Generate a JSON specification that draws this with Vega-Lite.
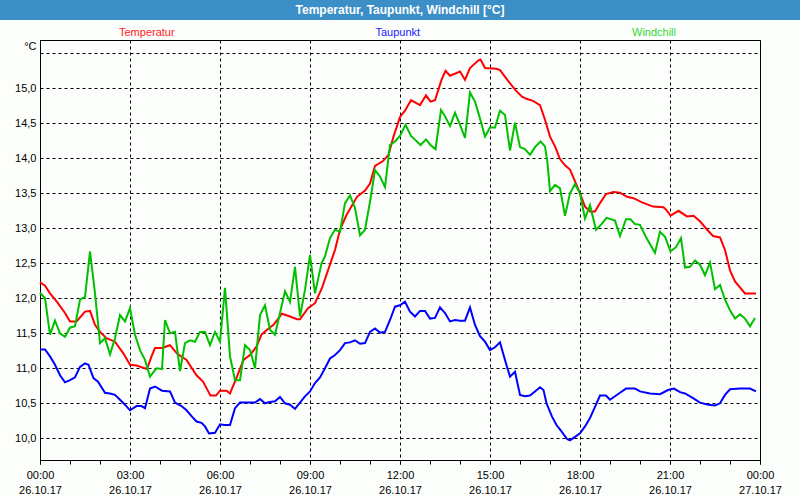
{
  "$schema": "https://vega.github.io/schema/vega-lite/v6.json",
  "background": "#fcfefc",
  "padding": 0,
  "spacing": 20,
  "bounds": "flush",
  "center": true,
  "config": {
    "font": "Liberation Sans",
    "view": {"stroke": "black", "strokeWidth": 1}
  },
  "datasets": {
    "temperatur": [
      {"time":"2017-10-26T00:00","value":12.23},{"time":"2017-10-26T00:10","value":12.18},{"time":"2017-10-26T00:20","value":12.07},{"time":"2017-10-26T00:34","value":11.95},{"time":"2017-10-26T00:50","value":11.79},{"time":"2017-10-26T01:00","value":11.67},{"time":"2017-10-26T01:13","value":11.67},{"time":"2017-10-26T01:30","value":11.81},{"time":"2017-10-26T01:40","value":11.82},{"time":"2017-10-26T01:50","value":11.62},{"time":"2017-10-26T02:00","value":11.52},{"time":"2017-10-26T02:13","value":11.43},{"time":"2017-10-26T02:30","value":11.38},{"time":"2017-10-26T02:47","value":11.21},{"time":"2017-10-26T03:00","value":11.05},{"time":"2017-10-26T03:13","value":11.04},{"time":"2017-10-26T03:34","value":10.99},{"time":"2017-10-26T03:43","value":11.17},{"time":"2017-10-26T03:50","value":11.29},{"time":"2017-10-26T04:04","value":11.29},{"time":"2017-10-26T04:20","value":11.33},{"time":"2017-10-26T04:34","value":11.21},{"time":"2017-10-26T04:53","value":11.12},{"time":"2017-10-26T05:13","value":10.90},{"time":"2017-10-26T05:26","value":10.81},{"time":"2017-10-26T05:41","value":10.61},{"time":"2017-10-26T05:52","value":10.61},{"time":"2017-10-26T06:00","value":10.68},{"time":"2017-10-26T06:13","value":10.68},{"time":"2017-10-26T06:20","value":10.64},{"time":"2017-10-26T06:34","value":10.88},{"time":"2017-10-26T06:47","value":11.12},{"time":"2017-10-26T07:00","value":11.19},{"time":"2017-10-26T07:13","value":11.31},{"time":"2017-10-26T07:23","value":11.48},{"time":"2017-10-26T07:34","value":11.55},{"time":"2017-10-26T07:47","value":11.62},{"time":"2017-10-26T08:04","value":11.78},{"time":"2017-10-26T08:20","value":11.74},{"time":"2017-10-26T08:34","value":11.70},{"time":"2017-10-26T08:40","value":11.70},{"time":"2017-10-26T08:56","value":11.86},{"time":"2017-10-26T09:10","value":11.93},{"time":"2017-10-26T09:24","value":12.15},{"time":"2017-10-26T09:36","value":12.40},{"time":"2017-10-26T09:50","value":12.69},{"time":"2017-10-26T10:00","value":12.98},{"time":"2017-10-26T10:13","value":13.19},{"time":"2017-10-26T10:34","value":13.45},{"time":"2017-10-26T10:50","value":13.54},{"time":"2017-10-26T11:00","value":13.64},{"time":"2017-10-26T11:10","value":13.89},{"time":"2017-10-26T11:26","value":13.96},{"time":"2017-10-26T11:37","value":14.05},{"time":"2017-10-26T11:47","value":14.31},{"time":"2017-10-26T12:00","value":14.59},{"time":"2017-10-26T12:10","value":14.68},{"time":"2017-10-26T12:22","value":14.83},{"time":"2017-10-26T12:40","value":14.76},{"time":"2017-10-26T12:52","value":14.90},{"time":"2017-10-26T13:01","value":14.81},{"time":"2017-10-26T13:10","value":14.83},{"time":"2017-10-26T13:23","value":15.12},{"time":"2017-10-26T13:31","value":15.25},{"time":"2017-10-26T13:40","value":15.18},{"time":"2017-10-26T14:00","value":15.24},{"time":"2017-10-26T14:10","value":15.12},{"time":"2017-10-26T14:20","value":15.29},{"time":"2017-10-26T14:37","value":15.40},{"time":"2017-10-26T14:41","value":15.41},{"time":"2017-10-26T14:50","value":15.29},{"time":"2017-10-26T15:13","value":15.28},{"time":"2017-10-26T15:20","value":15.26},{"time":"2017-10-26T15:37","value":15.10},{"time":"2017-10-26T15:50","value":14.98},{"time":"2017-10-26T16:04","value":14.88},{"time":"2017-10-26T16:13","value":14.85},{"time":"2017-10-26T16:26","value":14.82},{"time":"2017-10-26T16:40","value":14.76},{"time":"2017-10-26T16:50","value":14.55},{"time":"2017-10-26T17:00","value":14.31},{"time":"2017-10-26T17:10","value":14.17},{"time":"2017-10-26T17:20","value":13.99},{"time":"2017-10-26T17:30","value":13.90},{"time":"2017-10-26T17:40","value":13.84},{"time":"2017-10-26T17:50","value":13.67},{"time":"2017-10-26T18:00","value":13.50},{"time":"2017-10-26T18:10","value":13.31},{"time":"2017-10-26T18:20","value":13.24},{"time":"2017-10-26T18:30","value":13.24},{"time":"2017-10-26T18:40","value":13.36},{"time":"2017-10-26T18:52","value":13.49},{"time":"2017-10-26T19:07","value":13.52},{"time":"2017-10-26T19:20","value":13.51},{"time":"2017-10-26T19:34","value":13.45},{"time":"2017-10-26T19:47","value":13.43},{"time":"2017-10-26T20:04","value":13.37},{"time":"2017-10-26T20:26","value":13.31},{"time":"2017-10-26T20:47","value":13.30},{"time":"2017-10-26T20:53","value":13.26},{"time":"2017-10-26T21:01","value":13.18},{"time":"2017-10-26T21:17","value":13.25},{"time":"2017-10-26T21:34","value":13.17},{"time":"2017-10-26T21:47","value":13.18},{"time":"2017-10-26T22:00","value":13.10},{"time":"2017-10-26T22:13","value":12.99},{"time":"2017-10-26T22:26","value":12.89},{"time":"2017-10-26T22:40","value":12.87},{"time":"2017-10-26T22:50","value":12.69},{"time":"2017-10-26T23:00","value":12.40},{"time":"2017-10-26T23:10","value":12.24},{"time":"2017-10-26T23:30","value":12.07},{"time":"2017-10-26T23:52","value":12.07}
    ],
    "taupunkt": [
      {"time":"2017-10-26T00:00","value":11.27},{"time":"2017-10-26T00:10","value":11.27},{"time":"2017-10-26T00:20","value":11.17},{"time":"2017-10-26T00:30","value":11.05},{"time":"2017-10-26T00:40","value":10.90},{"time":"2017-10-26T00:50","value":10.80},{"time":"2017-10-26T01:00","value":10.83},{"time":"2017-10-26T01:10","value":10.87},{"time":"2017-10-26T01:20","value":11.02},{"time":"2017-10-26T01:30","value":11.07},{"time":"2017-10-26T01:37","value":11.05},{"time":"2017-10-26T01:47","value":10.86},{"time":"2017-10-26T01:56","value":10.81},{"time":"2017-10-26T02:10","value":10.65},{"time":"2017-10-26T02:20","value":10.64},{"time":"2017-10-26T02:30","value":10.62},{"time":"2017-10-26T02:40","value":10.55},{"time":"2017-10-26T02:50","value":10.48},{"time":"2017-10-26T03:00","value":10.40},{"time":"2017-10-26T03:13","value":10.46},{"time":"2017-10-26T03:23","value":10.46},{"time":"2017-10-26T03:30","value":10.43},{"time":"2017-10-26T03:40","value":10.71},{"time":"2017-10-26T03:50","value":10.74},{"time":"2017-10-26T04:04","value":10.68},{"time":"2017-10-26T04:20","value":10.67},{"time":"2017-10-26T04:30","value":10.51},{"time":"2017-10-26T04:43","value":10.46},{"time":"2017-10-26T04:53","value":10.40},{"time":"2017-10-26T05:04","value":10.31},{"time":"2017-10-26T05:13","value":10.24},{"time":"2017-10-26T05:23","value":10.22},{"time":"2017-10-26T05:30","value":10.17},{"time":"2017-10-26T05:38","value":10.07},{"time":"2017-10-26T05:50","value":10.08},{"time":"2017-10-26T06:00","value":10.20},{"time":"2017-10-26T06:08","value":10.19},{"time":"2017-10-26T06:20","value":10.19},{"time":"2017-10-26T06:30","value":10.43},{"time":"2017-10-26T06:40","value":10.51},{"time":"2017-10-26T06:50","value":10.51},{"time":"2017-10-26T07:10","value":10.51},{"time":"2017-10-26T07:20","value":10.56},{"time":"2017-10-26T07:30","value":10.50},{"time":"2017-10-26T07:40","value":10.52},{"time":"2017-10-26T07:50","value":10.53},{"time":"2017-10-26T08:00","value":10.59},{"time":"2017-10-26T08:10","value":10.50},{"time":"2017-10-26T08:20","value":10.48},{"time":"2017-10-26T08:30","value":10.42},{"time":"2017-10-26T08:40","value":10.51},{"time":"2017-10-26T08:50","value":10.60},{"time":"2017-10-26T09:00","value":10.67},{"time":"2017-10-26T09:10","value":10.79},{"time":"2017-10-26T09:20","value":10.87},{"time":"2017-10-26T09:30","value":11.00},{"time":"2017-10-26T09:40","value":11.14},{"time":"2017-10-26T09:50","value":11.19},{"time":"2017-10-26T10:00","value":11.26},{"time":"2017-10-26T10:10","value":11.36},{"time":"2017-10-26T10:20","value":11.37},{"time":"2017-10-26T10:30","value":11.40},{"time":"2017-10-26T10:40","value":11.35},{"time":"2017-10-26T10:50","value":11.36},{"time":"2017-10-26T11:00","value":11.52},{"time":"2017-10-26T11:10","value":11.57},{"time":"2017-10-26T11:20","value":11.51},{"time":"2017-10-26T11:30","value":11.52},{"time":"2017-10-26T11:40","value":11.69},{"time":"2017-10-26T11:50","value":11.88},{"time":"2017-10-26T12:00","value":11.90},{"time":"2017-10-26T12:10","value":11.95},{"time":"2017-10-26T12:20","value":11.81},{"time":"2017-10-26T12:30","value":11.74},{"time":"2017-10-26T12:40","value":11.82},{"time":"2017-10-26T12:50","value":11.82},{"time":"2017-10-26T13:00","value":11.71},{"time":"2017-10-26T13:10","value":11.72},{"time":"2017-10-26T13:20","value":11.87},{"time":"2017-10-26T13:30","value":11.79},{"time":"2017-10-26T13:40","value":11.67},{"time":"2017-10-26T13:50","value":11.69},{"time":"2017-10-26T14:00","value":11.68},{"time":"2017-10-26T14:10","value":11.68},{"time":"2017-10-26T14:20","value":11.87},{"time":"2017-10-26T14:30","value":11.62},{"time":"2017-10-26T14:40","value":11.46},{"time":"2017-10-26T14:50","value":11.38},{"time":"2017-10-26T15:00","value":11.26},{"time":"2017-10-26T15:10","value":11.30},{"time":"2017-10-26T15:20","value":11.37},{"time":"2017-10-26T15:30","value":11.12},{"time":"2017-10-26T15:40","value":10.88},{"time":"2017-10-26T15:50","value":10.95},{"time":"2017-10-26T16:00","value":10.62},{"time":"2017-10-26T16:10","value":10.60},{"time":"2017-10-26T16:20","value":10.61},{"time":"2017-10-26T16:30","value":10.67},{"time":"2017-10-26T16:40","value":10.73},{"time":"2017-10-26T16:47","value":10.69},{"time":"2017-10-26T16:53","value":10.50},{"time":"2017-10-26T17:04","value":10.31},{"time":"2017-10-26T17:13","value":10.19},{"time":"2017-10-26T17:23","value":10.10},{"time":"2017-10-26T17:34","value":9.99},{"time":"2017-10-26T17:40","value":9.97},{"time":"2017-10-26T17:50","value":10.02},{"time":"2017-10-26T18:00","value":10.07},{"time":"2017-10-26T18:10","value":10.17},{"time":"2017-10-26T18:20","value":10.29},{"time":"2017-10-26T18:30","value":10.45},{"time":"2017-10-26T18:40","value":10.61},{"time":"2017-10-26T18:52","value":10.61},{"time":"2017-10-26T19:00","value":10.55},{"time":"2017-10-26T19:10","value":10.60},{"time":"2017-10-26T19:20","value":10.65},{"time":"2017-10-26T19:32","value":10.71},{"time":"2017-10-26T19:50","value":10.71},{"time":"2017-10-26T20:00","value":10.67},{"time":"2017-10-26T20:20","value":10.64},{"time":"2017-10-26T20:40","value":10.63},{"time":"2017-10-26T20:56","value":10.69},{"time":"2017-10-26T21:08","value":10.71},{"time":"2017-10-26T21:20","value":10.66},{"time":"2017-10-26T21:30","value":10.64},{"time":"2017-10-26T21:47","value":10.57},{"time":"2017-10-26T22:00","value":10.51},{"time":"2017-10-26T22:17","value":10.48},{"time":"2017-10-26T22:30","value":10.47},{"time":"2017-10-26T22:40","value":10.50},{"time":"2017-10-26T22:50","value":10.62},{"time":"2017-10-26T23:00","value":10.70},{"time":"2017-10-26T23:20","value":10.71},{"time":"2017-10-26T23:40","value":10.71},{"time":"2017-10-26T23:52","value":10.67}
    ],
    "windchill": [
      {"time":"2017-10-26T00:00","value":12.08},{"time":"2017-10-26T00:10","value":12.00},{"time":"2017-10-26T00:20","value":11.48},{"time":"2017-10-26T00:30","value":11.68},{"time":"2017-10-26T00:40","value":11.50},{"time":"2017-10-26T00:50","value":11.45},{"time":"2017-10-26T01:00","value":11.58},{"time":"2017-10-26T01:10","value":11.60},{"time":"2017-10-26T01:20","value":11.98},{"time":"2017-10-26T01:30","value":12.02},{"time":"2017-10-26T01:40","value":12.67},{"time":"2017-10-26T01:50","value":12.07},{"time":"2017-10-26T02:00","value":11.36},{"time":"2017-10-26T02:10","value":11.43},{"time":"2017-10-26T02:20","value":11.20},{"time":"2017-10-26T02:30","value":11.43},{"time":"2017-10-26T02:40","value":11.76},{"time":"2017-10-26T02:50","value":11.67},{"time":"2017-10-26T03:00","value":11.86},{"time":"2017-10-26T03:10","value":11.48},{"time":"2017-10-26T03:20","value":11.26},{"time":"2017-10-26T03:30","value":11.12},{"time":"2017-10-26T03:40","value":10.88},{"time":"2017-10-26T03:53","value":11.00},{"time":"2017-10-26T04:04","value":10.99},{"time":"2017-10-26T04:10","value":11.69},{"time":"2017-10-26T04:20","value":11.50},{"time":"2017-10-26T04:30","value":11.52},{"time":"2017-10-26T04:40","value":10.96},{"time":"2017-10-26T04:50","value":11.36},{"time":"2017-10-26T05:00","value":11.40},{"time":"2017-10-26T05:10","value":11.38},{"time":"2017-10-26T05:20","value":11.52},{"time":"2017-10-26T05:30","value":11.52},{"time":"2017-10-26T05:40","value":11.33},{"time":"2017-10-26T05:50","value":11.52},{"time":"2017-10-26T06:00","value":11.38},{"time":"2017-10-26T06:10","value":12.15},{"time":"2017-10-26T06:20","value":11.17},{"time":"2017-10-26T06:30","value":10.83},{"time":"2017-10-26T06:40","value":10.83},{"time":"2017-10-26T06:50","value":11.33},{"time":"2017-10-26T07:00","value":11.26},{"time":"2017-10-26T07:10","value":11.00},{"time":"2017-10-26T07:20","value":11.76},{"time":"2017-10-26T07:30","value":11.90},{"time":"2017-10-26T07:40","value":11.55},{"time":"2017-10-26T07:50","value":11.48},{"time":"2017-10-26T08:00","value":11.79},{"time":"2017-10-26T08:10","value":12.10},{"time":"2017-10-26T08:20","value":11.95},{"time":"2017-10-26T08:30","value":12.45},{"time":"2017-10-26T08:40","value":11.74},{"time":"2017-10-26T08:50","value":12.12},{"time":"2017-10-26T09:00","value":12.62},{"time":"2017-10-26T09:10","value":12.07},{"time":"2017-10-26T09:23","value":12.50},{"time":"2017-10-26T09:30","value":12.60},{"time":"2017-10-26T09:40","value":12.86},{"time":"2017-10-26T09:50","value":12.98},{"time":"2017-10-26T10:00","value":12.95},{"time":"2017-10-26T10:10","value":13.36},{"time":"2017-10-26T10:20","value":13.47},{"time":"2017-10-26T10:30","value":13.29},{"time":"2017-10-26T10:40","value":12.90},{"time":"2017-10-26T10:50","value":12.98},{"time":"2017-10-26T11:00","value":13.38},{"time":"2017-10-26T11:10","value":13.83},{"time":"2017-10-26T11:20","value":13.74},{"time":"2017-10-26T11:30","value":13.59},{"time":"2017-10-26T11:40","value":14.19},{"time":"2017-10-26T11:50","value":14.24},{"time":"2017-10-26T12:00","value":14.32},{"time":"2017-10-26T12:11","value":14.48},{"time":"2017-10-26T12:22","value":14.32},{"time":"2017-10-26T12:31","value":14.26},{"time":"2017-10-26T12:41","value":14.19},{"time":"2017-10-26T12:52","value":14.27},{"time":"2017-10-26T13:01","value":14.19},{"time":"2017-10-26T13:11","value":14.13},{"time":"2017-10-26T13:22","value":14.69},{"time":"2017-10-26T13:30","value":14.60},{"time":"2017-10-26T13:40","value":14.46},{"time":"2017-10-26T13:50","value":14.65},{"time":"2017-10-26T14:00","value":14.48},{"time":"2017-10-26T14:10","value":14.29},{"time":"2017-10-26T14:20","value":14.94},{"time":"2017-10-26T14:30","value":14.81},{"time":"2017-10-26T14:40","value":14.57},{"time":"2017-10-26T14:50","value":14.31},{"time":"2017-10-26T15:00","value":14.44},{"time":"2017-10-26T15:10","value":14.44},{"time":"2017-10-26T15:20","value":14.68},{"time":"2017-10-26T15:30","value":14.62},{"time":"2017-10-26T15:40","value":14.11},{"time":"2017-10-26T15:50","value":14.51},{"time":"2017-10-26T16:00","value":14.16},{"time":"2017-10-26T16:10","value":14.13},{"time":"2017-10-26T16:20","value":14.05},{"time":"2017-10-26T16:30","value":14.16},{"time":"2017-10-26T16:41","value":14.24},{"time":"2017-10-26T16:50","value":14.17},{"time":"2017-10-26T16:55","value":13.93},{"time":"2017-10-26T17:00","value":13.53},{"time":"2017-10-26T17:10","value":13.62},{"time":"2017-10-26T17:20","value":13.57},{"time":"2017-10-26T17:30","value":13.18},{"time":"2017-10-26T17:40","value":13.50},{"time":"2017-10-26T17:50","value":13.63},{"time":"2017-10-26T18:00","value":13.50},{"time":"2017-10-26T18:10","value":13.14},{"time":"2017-10-26T18:20","value":13.33},{"time":"2017-10-26T18:32","value":12.98},{"time":"2017-10-26T18:43","value":13.06},{"time":"2017-10-26T18:53","value":13.15},{"time":"2017-10-26T19:10","value":13.11},{"time":"2017-10-26T19:20","value":12.89},{"time":"2017-10-26T19:32","value":13.13},{"time":"2017-10-26T19:41","value":13.13},{"time":"2017-10-26T19:50","value":13.06},{"time":"2017-10-26T20:00","value":13.05},{"time":"2017-10-26T20:13","value":12.86},{"time":"2017-10-26T20:30","value":12.65},{"time":"2017-10-26T20:40","value":12.95},{"time":"2017-10-26T20:50","value":12.88},{"time":"2017-10-26T21:01","value":12.67},{"time":"2017-10-26T21:12","value":12.73},{"time":"2017-10-26T21:22","value":12.86},{"time":"2017-10-26T21:30","value":12.44},{"time":"2017-10-26T21:40","value":12.45},{"time":"2017-10-26T21:50","value":12.54},{"time":"2017-10-26T22:00","value":12.48},{"time":"2017-10-26T22:10","value":12.33},{"time":"2017-10-26T22:20","value":12.51},{"time":"2017-10-26T22:30","value":12.13},{"time":"2017-10-26T22:40","value":12.19},{"time":"2017-10-26T22:50","value":11.98},{"time":"2017-10-26T23:00","value":11.83},{"time":"2017-10-26T23:10","value":11.71},{"time":"2017-10-26T23:20","value":11.77},{"time":"2017-10-26T23:30","value":11.71},{"time":"2017-10-26T23:40","value":11.60},{"time":"2017-10-26T23:50","value":11.72}
    ]
  },
  "vconcat": [
    {
      "width": 800,
      "height": 20,
      "view": {"fill": "#3c8fc6", "stroke": null},
      "data": {"values": [{"title": "Temperatur, Taupunkt, Windchill [°C]"}]},
      "mark": {"type": "text", "color": "white", "font": "Liberation Sans", "fontWeight": "bold", "fontSize": 12, "align": "center", "baseline": "middle"},
      "encoding": {"text": {"field": "title", "type": "nominal"}}
    },
    {
      "width": 720,
      "height": 420,
      "resolve": {"axis": {"x": "independent"}},
      "encoding": {
        "y": {
          "field": "value",
          "type": "quantitative",
          "scale": {"domain": [9.69, 15.69], "nice": false, "zero": false},
          "axis": {
            "values": [10, 10.5, 11, 11.5, 12, 12.5, 13, 13.5, 14, 14.5, 15, 15.5],
            "title": "°C",
            "titleAngle": 0,
            "titleAlign": "right",
            "titleBaseline": "middle",
            "titleX": -4,
            "titleY": 6,
            "titleFontSize": 11,
            "titleFontWeight": "normal",
            "titleColor": "black",
            "grid": true,
            "gridColor": "black",
            "gridDash": [3, 3],
            "gridOpacity": 1,
            "ticks": false,
            "domainColor": "black",
            "labelExpr": "datum.value > 15.2 ? '' : replace(format(datum.value, '.1f'), '.', ',')",
            "labelFontSize": 11,
            "labelColor": "black",
            "labelPadding": 4
          }
        }
      },
      "layer": [
        {
          "data": {"name": "temperatur"},
          "mark": {"type": "line", "strokeWidth": 2},
          "encoding": {
            "x": {
              "field": "time",
              "type": "temporal",
              "scale": {"domain": [{"year": 2017, "month": 10, "date": 26, "hours": 0}, {"year": 2017, "month": 10, "date": 27, "hours": 0}], "nice": false},
              "axis": {
                "orient": "bottom",
                "title": null,
                "tickCount": 8,
                "grid": true,
                "gridColor": "black",
                "gridDash": [3, 3],
                "gridOpacity": 1,
                "domainColor": "black",
                "tickColor": "black",
                "tickSize": 4,
                "labelExpr": "[timeFormat(datum.value, '%H:%M'), timeFormat(datum.value, '%d.%m.%y')]",
                "labelFontSize": 11,
                "labelColor": "black",
                "labelLineHeight": 15,
                "labelPadding": 5,
                "labelFlush": false
              }
            },
            "color": {
              "datum": "Temperatur",
              "type": "nominal",
              "scale": {"domain": ["Temperatur", "Taupunkt", "Windchill"], "range": ["#ff0000", "#0000ff", "#00c000"]},
              "legend": {
                "title": null,
                "orient": "none",
                "legendX": 108,
                "legendY": 27,
                "direction": "horizontal",
                "columns": 3,
                "gridAlign": "all",
                "columnPadding": 189.5,
                "padding": 0,
                "symbolSize": 0,
                "symbolOpacity": 0,
                "symbolStrokeWidth": 0,
                "labelOffset": 0,
                "labelFontSize": 11,
                "encode": {"labels": {"update": {"fill": {"signal": "datum.value === 'Temperatur' ? '#ff1a1a' : datum.value === 'Taupunkt' ? '#1a1aff' : '#2ed82e'"}}}}
              }
            }
          }
        },
        {
          "data": {"name": "taupunkt"},
          "mark": {"type": "line", "strokeWidth": 2},
          "encoding": {
            "x": {
              "field": "time",
              "type": "temporal",
              "axis": {
                "orient": "bottom",
                "title": null,
                "tickCount": 24,
                "grid": false,
                "labels": false,
                "domain": false,
                "tickColor": "black",
                "tickSize": 4
              }
            },
            "color": {"datum": "Taupunkt", "type": "nominal"}
          }
        },
        {
          "data": {"name": "windchill"},
          "mark": {"type": "line", "strokeWidth": 2},
          "encoding": {
            "x": {"field": "time", "type": "temporal", "axis": null},
            "color": {"datum": "Windchill", "type": "nominal"}
          }
        }
      ]
    }
  ]
}
